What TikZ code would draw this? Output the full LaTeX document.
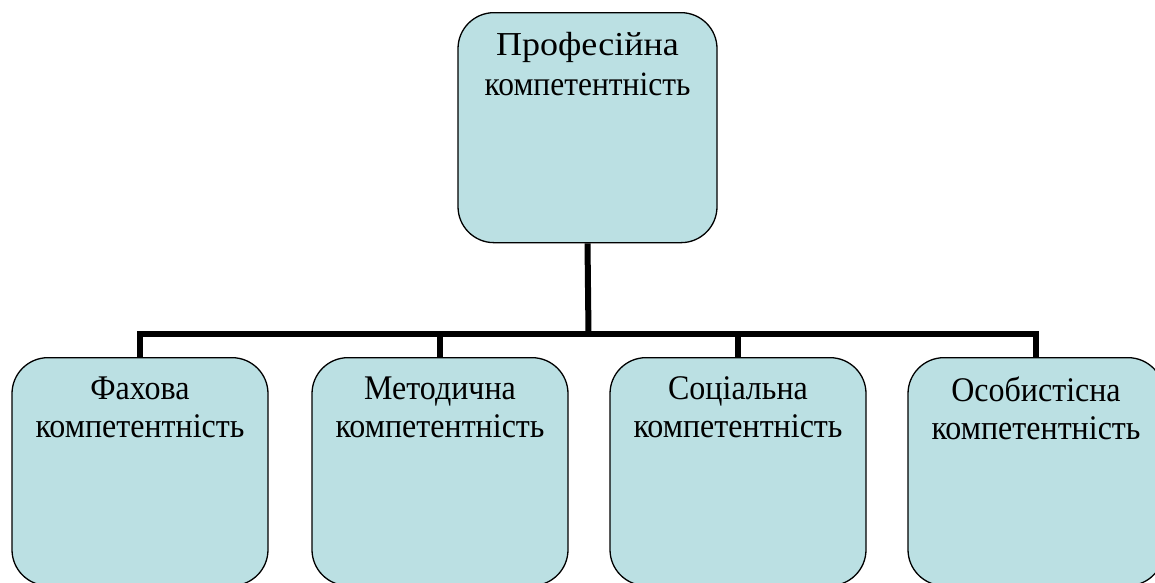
\documentclass[tikz,border=0pt]{standalone}
\usepackage{fontspec}
\setmainfont{Liberation Serif}
\definecolor{boxblue}{HTML}{BBE0E3}
\tikzset{
  compbox/.style={draw, line width=1.3pt, fill=boxblue, rounded corners=36pt,
    inner sep=0pt, anchor=north, minimum width=256pt, minimum height=228pt,
    font=\fontsize{32}{38}\selectfont},
  link/.style={line width=6pt}
}
\newcommand{\boxtext}[3]{\parbox[t][#1][t]{250pt}{\centering\vspace*{#2}#3}}
\newcommand{\tall}[2][1.08]{\scalebox{1}[#1]{#2}}
\begin{document}
\begin{tikzpicture}[x=1pt,y=-1pt]
\useasboundingbox (0,0) rectangle (1155,582);
\node[compbox, minimum width=259pt, minimum height=230pt] (prof) at (587.5,12)
  {\boxtext{230pt}{20pt}{\fontsize{36}{40}\selectfont\tall[0.93]{Професійна}\\
   \fontsize{31.5}{40}\selectfont\tall{компетентність}}};
\node[compbox] (fah) at (140,357) {\boxtext{228pt}{19pt}{\tall{Фахова}\\\tall{компетентність}}};
\node[compbox] (met) at (440,357) {\boxtext{228pt}{19pt}{\tall{Методична}\\\tall{компетентність}}};
\node[compbox] (soc) at (738,357) {\boxtext{228pt}{19pt}{\tall{Соціальна}\\\tall{компетентність}}};
\node[compbox] (osob) at (1036,357) {\boxtext{228pt}{19pt}{\tall{Особистісна}\\\tall{компетентність}}};
\coordinate (split) at (588.5,333.5);
\draw[link] (prof.south) -- (split);
\draw[link] (split) -| (fah.north);
\draw[link] (split) -| (met.north);
\draw[link] (split) -| (soc.north);
\draw[link] (split) -| (osob.north);
\end{tikzpicture}
\end{document}
